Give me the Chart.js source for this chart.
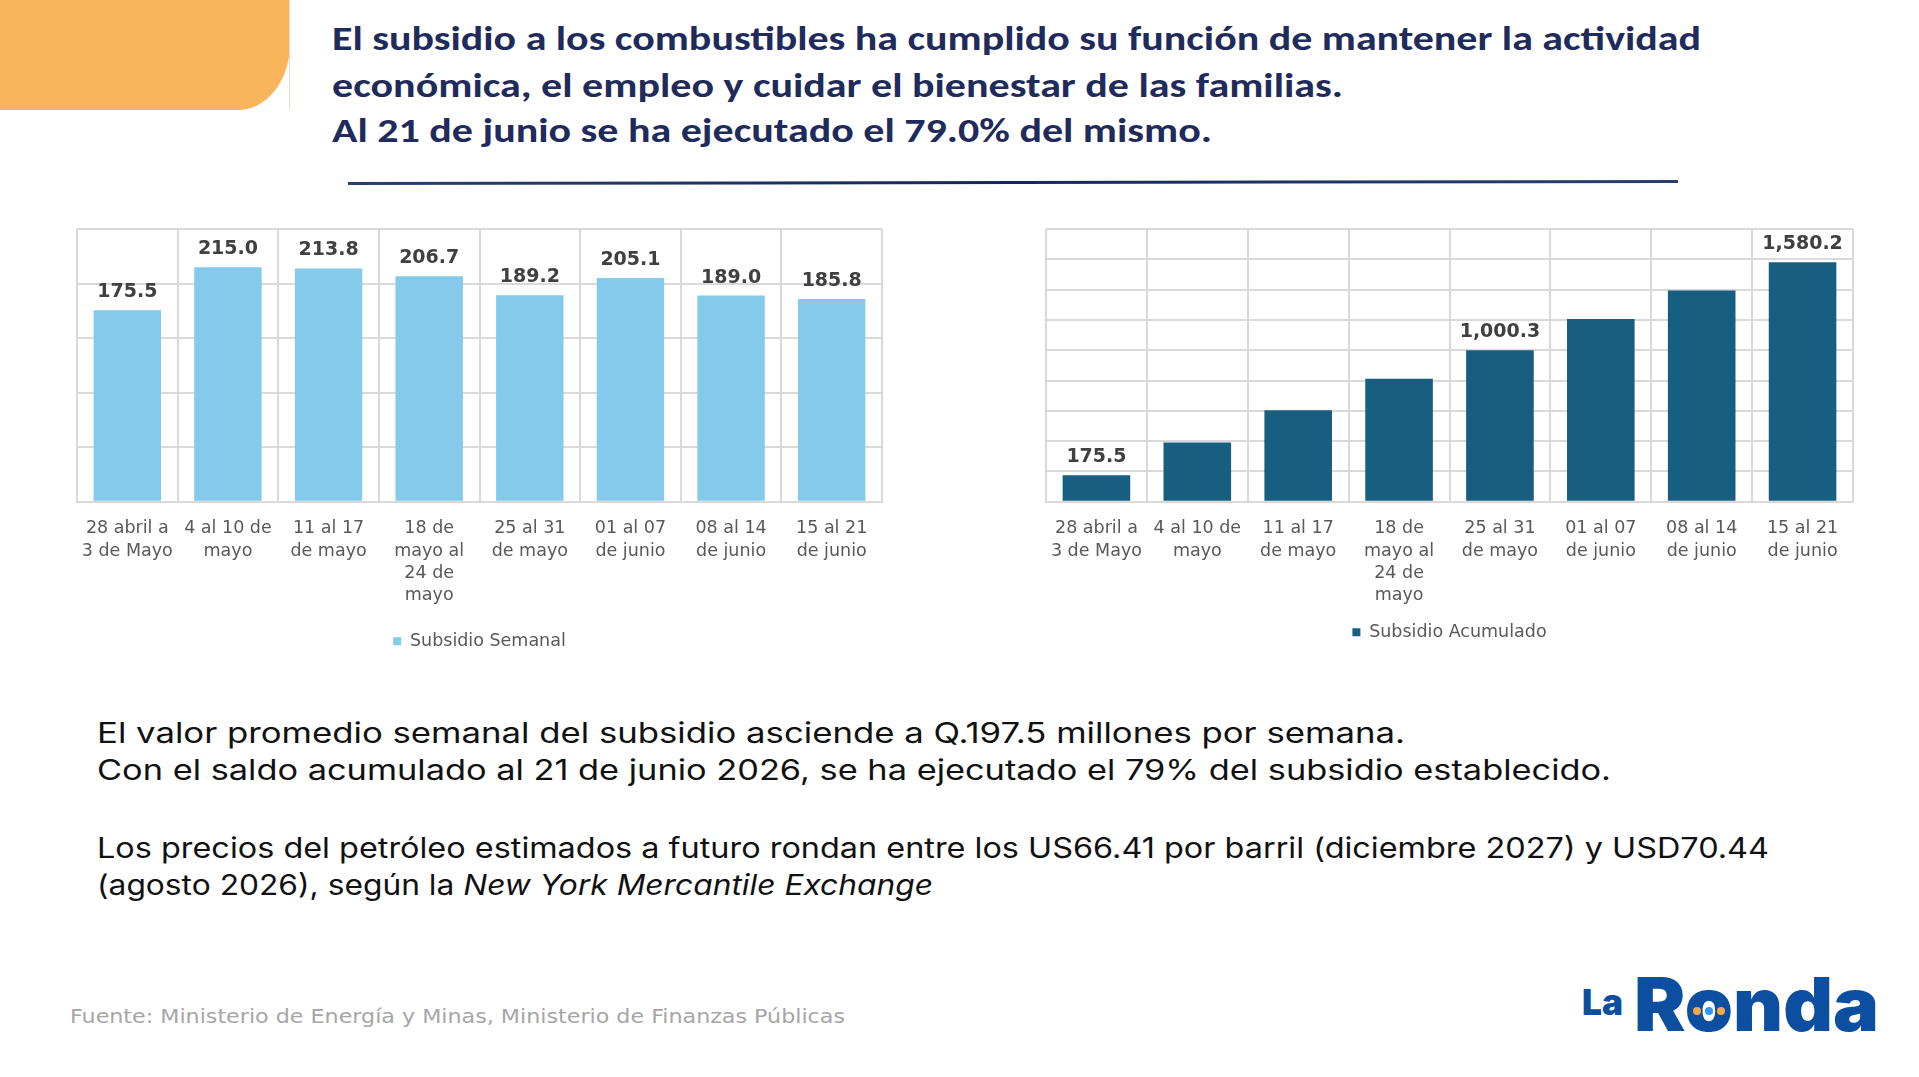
<!DOCTYPE html>
<html>
<head>
<meta charset="utf-8">
<script src="https://cdn.jsdelivr.net/npm/chart.js@4.4.1/dist/chart.umd.min.js"></script>
<style>
  body { margin: 0; width: 1919px; height: 1077px; background: #fff; position: relative; overflow: hidden; }
  .t { position: absolute; white-space: nowrap; transform-origin: 0 0; line-height: 1; }
  .title { font-family: "Carlito", "Open Sans", sans-serif; font-weight: 700; font-size: 34px; color: #1f2b5b; }
  .body { font-family: "Inter", "Open Sans", sans-serif; font-size: 28px; color: #111; }
  .foot { font-family: "DejaVu Sans", sans-serif; font-size: 20px; color: #a6a6a6; }
  .logo { font-family: "Inter", sans-serif; font-weight: 900; color: #0c4ea0; }
  #orange { position: absolute; left: 0; top: 0; width: 290px; height: 110px; background: #f9b55b; border-bottom-right-radius: 52px 66px; }
  #edge { position: absolute; left: 289px; top: 0; width: 1px; height: 110px; background: #eadcc4; }
  #rule { position: absolute; left: 348px; top: 181px; width: 1330px; height: 3px; background: linear-gradient(to right, #2a3f70, #14285a 50%, #2a3f70); transform: rotate(-0.09deg); }
  .box { position: absolute; }
  .dot { position: absolute; border-radius: 50%; width: 8px; height: 8px; }
</style>
</head>
<body>
<div id="orange"></div>
<div id="edge"></div>

<div class="t title fit" data-x="332" data-b="50" data-w="1369">El subsidio a los combustibles ha cumplido su función de mantener la actividad</div>
<div class="t title fit" data-x="332" data-b="97" data-w="1011">económica, el empleo y cuidar el bienestar de las familias.</div>
<div class="t title fit" data-x="332" data-b="142" data-w="880">Al 21 de junio se ha ejecutado el 79.0% del mismo.</div>
<div id="rule"></div>

<div class="box" style="left:57px; top:200px; width:845px; height:460px;"><canvas id="chartSemanal"></canvas></div>
<div class="box" style="left:1026px; top:200px; width:847px; height:451px;"><canvas id="chartAcumulado"></canvas></div>

<div class="t body fit" data-x="97" data-b="743" data-w="1308">El valor promedio semanal del subsidio asciende a Q.197.5 millones por semana.</div>
<div class="t body fit" data-x="97" data-b="780" data-w="1514">Con el saldo acumulado al 21 de junio 2026, se ha ejecutado el 79% del subsidio establecido.</div>
<div class="t body fit" data-x="97" data-b="858" data-w="1672">Los precios del petróleo estimados a futuro rondan entre los US66.41 por barril (diciembre 2027) y USD70.44</div>
<div class="t body fit" data-x="97" data-b="895" data-w="836">(agosto 2026), según la <i>New York Mercantile Exchange</i></div>

<div class="t foot fit" data-x="70" data-b="1023" data-w="775">Fuente: Ministerio de Energía y Minas, Ministerio de Finanzas Públicas</div>

<div class="t logo fit" data-x="1582" data-b="1015" data-w="41" style="font-size:36px;">La</div>
<div class="t logo fit" data-x="1634" data-b="1031" data-w="245" style="font-size:74px;">R<span id="logoO">o</span>nda</div>
<div class="dot" id="dotL" style="background:#f3a84a;"></div>
<div class="dot" id="dotR" style="background:#f3a84a;"></div>
<div class="dot" id="dotC" style="background:#2f9bf0;"></div>

<script>
// weekly periods
var semanas = [
  ['28 abril a', '3 de Mayo'],
  ['4 al 10 de', 'mayo'],
  ['11 al 17', 'de mayo'],
  ['18 de', 'mayo al', '24 de', 'mayo'],
  ['25 al 31', 'de mayo'],
  ['01 al 07', 'de junio'],
  ['08 al 14', 'de junio'],
  ['15 al 21', 'de junio']
];
var subsidioSemanal = [175.5, 215.0, 213.8, 206.7, 189.2, 205.1, 189.0, 185.8];
var subsidioAcumulado = [175.5, 390.5, 604.3, 811.0, 1000.3, 1205.4, 1394.4, 1580.2];
// only these bars carry a value label on the cumulative chart
var etiquetasAcumulado = [0, 4, 7];

// text placement: put each line on its baseline and stretch to the measured width
document.querySelectorAll('.fit').forEach(function(el) {
  var m = document.createElement('span');
  m.style.display = 'inline-block';
  m.style.width = '0';
  m.style.height = '0';
  el.appendChild(m);
  el.style.left = el.getAttribute('data-x') + 'px';
  el.style.top = '0px';
  var base = m.getBoundingClientRect().top;
  el.style.top = (parseFloat(el.getAttribute('data-b')) - base) + 'px';
  var w = el.getBoundingClientRect().width;
  el.style.transform = 'scaleX(' + (parseFloat(el.getAttribute('data-w')) / w) + ')';
});

// the little dots inside the "o" of the logo
var oBox = document.getElementById('logoO').getBoundingClientRect();
var oMid = (oBox.left + oBox.right) / 2;
document.getElementById('dotL').style.left = (oMid - 16) + 'px';
document.getElementById('dotR').style.left = (oMid + 8) + 'px';
document.getElementById('dotC').style.left = (oMid - 4) + 'px';
['dotL', 'dotR', 'dotC'].forEach(function(id) { document.getElementById(id).style.top = '1007px'; });

function fmt(v) {
  return v.toLocaleString('en-US', {minimumFractionDigits: 1, maximumFractionDigits: 1});
}

var barValues = {
  id: 'barValues',
  afterDatasetsDraw: function(chart, args, opts) {
    var ctx = chart.ctx;
    var meta = chart.getDatasetMeta(0);
    var vals = chart.data.datasets[0].data;
    ctx.save();
    ctx.font = 'bold 19px "DejaVu Sans"';
    ctx.fillStyle = '#404040';
    ctx.textAlign = 'center';
    ctx.textBaseline = 'alphabetic';
    meta.data.forEach(function(bar, i) {
      if (opts.show && opts.show.indexOf(i) < 0) return;
      ctx.fillText(fmt(vals[i]), bar.x, bar.y - 13);
    });
    ctx.restore();
  }
};

Chart.register(barValues);

function makeChart(id, label, data, color, max, step, legendPad, show) {
  return new Chart(document.getElementById(id), {
    type: 'bar',
    data: {
      labels: semanas,
      datasets: [{
        label: label,
        data: data,
        backgroundColor: color,
        borderWidth: 0,
        categoryPercentage: 1,
        barPercentage: 0.67
      }]
    },
    options: {
      responsive: true,
      maintainAspectRatio: false,
      animation: false,
      events: [],
      layout: { padding: { left: 20, right: 20, top: 29, bottom: 0 } },
      scales: {
        x: {
          grid: { color: '#d9d9d9', lineWidth: 2, drawTicks: false, offset: true },
          border: { color: '#d9d9d9', width: 2 },
          ticks: {
            color: '#595959',
            font: { family: 'DejaVu Sans', size: 17.5, lineHeight: 1.275 },
            padding: 16,
            maxRotation: 0,
            autoSkip: false
          }
        },
        y: {
          min: 0,
          max: max,
          ticks: { display: false, stepSize: step },
          grid: { color: '#d9d9d9', lineWidth: 2, drawTicks: false },
          border: { display: false }
        }
      },
      plugins: {
        tooltip: { enabled: false },
        legend: {
          position: 'bottom',
          labels: {
            boxWidth: 8,
            boxHeight: 8,
            color: '#595959',
            font: { family: 'DejaVu Sans', size: 17.5 },
            padding: legendPad
          }
        },
        barValues: { show: show }
      }
    }
  });
}

makeChart('chartSemanal', 'Subsidio Semanal', subsidioSemanal, '#83caeb', 250, 50, 9.5, null);
makeChart('chartAcumulado', 'Subsidio Acumulado', subsidioAcumulado, '#175e80', 1800, 200, 0.5, etiquetasAcumulado);
</script>
</body>
</html>
